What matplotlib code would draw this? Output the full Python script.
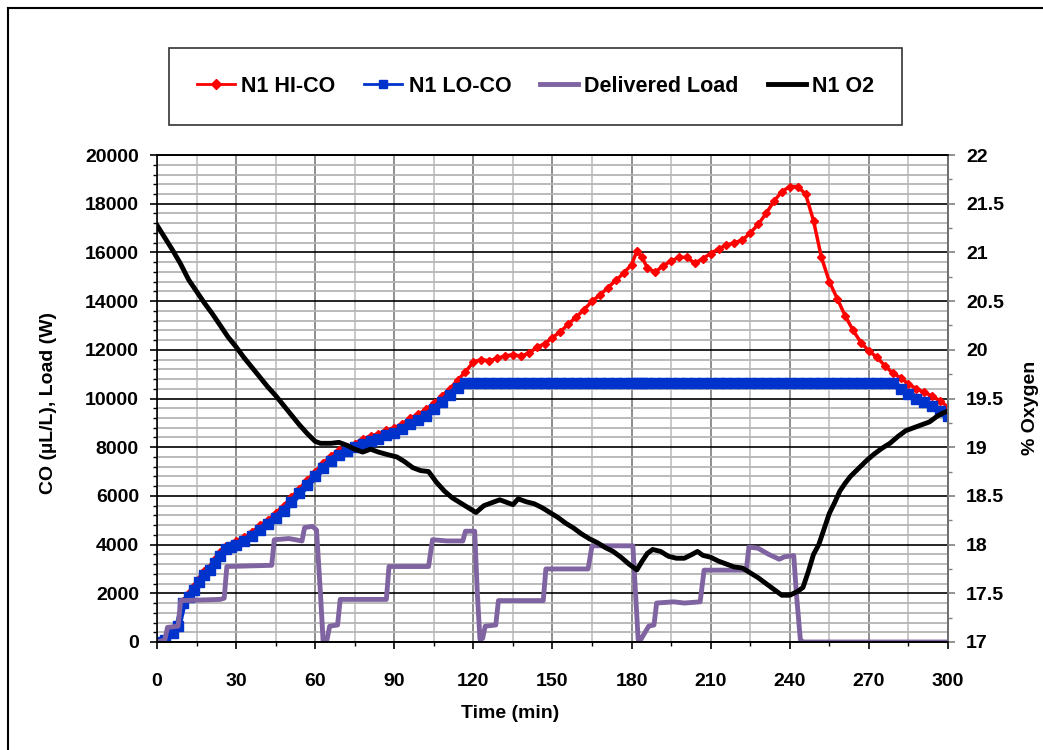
import matplotlib
matplotlib.use("Agg")
import matplotlib.pyplot as plt
from matplotlib.ticker import MultipleLocator
from matplotlib.lines import Line2D

plt.rcParams['font.family'] = ['Liberation Sans', 'DejaVu Sans']
plt.rcParams['font.weight'] = 'bold'

# ===== DATA =====
co_time = [0, 3, 6, 8, 10, 12, 14, 16, 18, 20, 22, 24, 26, 28, 30, 33, 36, 39, 42, 45,
           48, 51, 54, 57, 60, 63, 66, 69, 72, 75, 78, 81, 84, 87, 90, 93, 96, 99, 102, 105,
           108, 111, 114, 117, 120, 123, 126, 129, 132, 135, 138, 141, 144, 147, 150, 153, 156, 159, 162, 165,
           168, 171, 174, 177, 180, 182, 184, 186, 189, 192, 195, 198, 201, 204, 207, 210, 213, 216, 219, 222,
           225, 228, 231, 234, 237, 240, 243, 246, 249, 252, 255, 258, 261, 264, 267, 270, 273, 276, 279, 282,
           285, 288, 291, 294, 297, 300]

hi_co = [0, 150, 450, 800, 1700, 2000, 2300, 2600, 2900, 3100, 3400, 3700, 3950, 4000, 4150, 4300, 4500, 4800, 5000, 5300,
         5600, 5950, 6300, 6650, 7000, 7350, 7650, 7900, 8000, 8150, 8350, 8450, 8550, 8700, 8800, 8950, 9200, 9350, 9550, 9800,
         10100, 10400, 10750, 11100, 11500, 11600, 11550, 11650, 11750, 11800, 11750, 11850, 12100, 12250, 12500, 12750, 13050, 13350, 13650, 14000,
         14250, 14550, 14850, 15150, 15500, 16050, 15800, 15350, 15200, 15450, 15650, 15800, 15800, 15550, 15750, 15950, 16150, 16300, 16400, 16500,
         16800, 17150, 17600, 18100, 18500, 18700, 18700, 18400, 17300, 15800, 14800, 14100, 13400, 12800, 12300, 11950, 11700, 11350, 11050, 10850,
         10600, 10400, 10250, 10100, 9900, 9650]

lo_co = [0, 100, 350, 650, 1600, 1850, 2150, 2450, 2750, 2950, 3250, 3550, 3800, 3900, 4000, 4150, 4350, 4600, 4850, 5100,
         5400, 5750, 6100, 6450, 6800, 7150, 7450, 7700, 7850, 8000, 8150, 8250, 8350, 8500, 8600, 8750, 8950, 9100, 9300, 9550,
         9850, 10150, 10450, 10650, 10650, 10650, 10650, 10650, 10650, 10650, 10650, 10650, 10650, 10650, 10650, 10650, 10650, 10650, 10650, 10650,
         10650, 10650, 10650, 10650, 10650, 10650, 10650, 10650, 10650, 10650, 10650, 10650, 10650, 10650, 10650, 10650, 10650, 10650, 10650, 10650,
         10650, 10650, 10650, 10650, 10650, 10650, 10650, 10650, 10650, 10650, 10650, 10650, 10650, 10650, 10650, 10650, 10650, 10650, 10650, 10400,
         10200, 10000, 9850, 9700, 9500, 9300]

load_time = [0, 2, 3, 4, 8, 9, 24, 25.5, 26.5, 43.5, 44.5, 50, 55, 56, 59, 60.5, 62, 63, 64.5, 65.5,
             68.5, 69.5, 87, 88, 103, 104.5, 110, 116, 117, 120.5, 121.5, 122.5, 123.5, 124.5, 128.5, 129.5, 146.5, 147.5, 163.5, 165,
             180.5, 181.5, 182.5, 183.5, 186.5, 188.5, 189.5, 196, 200, 206, 207.5, 223.5, 224.5, 228, 232, 236, 238, 241.5, 242.5, 244,
             245, 300]
load_w = [0, 50, 100, 600, 650, 1700, 1750, 1800, 3100, 3150, 4200, 4250, 4150, 4700, 4750, 4600, 2000, 50, 100, 650,
          700, 1750, 1750, 3100, 3100, 4200, 4150, 4150, 4550, 4550, 2000, 100, 150, 650, 700, 1700, 1700, 3000, 3000, 3950,
          3950, 2000, 100, 100, 650, 700, 1600, 1650, 1600, 1650, 2950, 2950, 3900, 3850, 3600, 3400, 3500, 3550, 2000, 100,
          0, 0]

o2_time = [0, 3, 6, 9, 12, 15, 18, 21, 24, 27, 30, 33, 36, 39, 42, 45, 48, 51, 54, 57,
           60, 62, 66, 69, 72, 75, 78, 81, 84, 88, 91, 94, 97, 100, 103, 106, 109, 112, 115, 118,
           121, 124, 127, 130, 133, 135, 137, 140, 143, 146, 149, 152, 155, 158, 161, 164, 167, 170, 173, 176,
           179, 182, 184, 186, 188, 191, 194, 197, 200, 203, 205, 207, 210, 213, 216, 219, 222, 225, 228, 231,
           234, 237, 240, 243, 245, 247, 249, 251, 253, 255, 257, 259, 261, 263, 266, 269, 272, 275, 278, 281,
           284, 287, 290, 293, 296, 298, 300]
o2_pct = [21.28, 21.15, 21.02, 20.88, 20.72, 20.60, 20.48, 20.37, 20.25, 20.13, 20.03, 19.92, 19.82, 19.72, 19.62, 19.53, 19.43, 19.33, 19.23, 19.14,
          19.06, 19.04, 19.04, 19.05, 19.02, 18.98, 18.95, 18.98, 18.95, 18.92, 18.90, 18.85, 18.79, 18.76, 18.75, 18.64, 18.55, 18.48, 18.43, 18.38,
          18.33, 18.40, 18.43, 18.46, 18.43, 18.41, 18.47, 18.44, 18.42, 18.38, 18.33, 18.28, 18.22, 18.17, 18.11, 18.06, 18.02, 17.97, 17.93, 17.87,
          17.80, 17.74, 17.83, 17.91, 17.95, 17.93, 17.88, 17.86, 17.86, 17.90, 17.93, 17.89, 17.87, 17.83, 17.80, 17.77, 17.76, 17.71, 17.66, 17.60,
          17.54, 17.48, 17.48, 17.52, 17.56, 17.72, 17.90, 18.00, 18.16, 18.32, 18.43, 18.55, 18.63, 18.70, 18.78, 18.86, 18.93, 18.99, 19.04, 19.11,
          19.17, 19.20, 19.23, 19.26, 19.32, 19.35, 19.37]

x_ticks = [0, 30, 60, 90, 120, 150, 180, 210, 240, 270, 300]
o2_ticks = [17, 17.5, 18, 18.5, 19, 19.5, 20, 20.5, 21, 21.5, 22]
o2_labels = ['17', '17.5', '18', '18.5', '19', '19.5', '20', '20.5', '21', '21.5', '22']

# ===== FIGURE =====
fig = plt.figure(figsize=(10.43, 7.5), dpi=100)
ax = fig.add_axes([0.1505, 0.144, 0.7584, 0.6493])
ax2 = ax.twinx()

# background grid
ax.set_axisbelow(True)
ax.yaxis.set_major_locator(MultipleLocator(2000))
ax.yaxis.set_minor_locator(MultipleLocator(400))
ax.xaxis.set_major_locator(MultipleLocator(30))
ax.xaxis.set_minor_locator(MultipleLocator(15))
ax.grid(which='minor', axis='y', color='#b4b4b4', lw=1.3)
ax.grid(which='major', axis='y', color='black', lw=1.2)
ax.grid(which='minor', axis='x', color='#c4c4c4', lw=1.3)
ax.grid(which='major', axis='x', color='#868686', lw=1.3)

l_hi, = ax.plot(co_time, hi_co, color='#ff0000', lw=2.5, marker='D', ms=4.5, mec='#ff0000', label='N1 HI-CO')
l_lo, = ax.plot(co_time, lo_co, color='#0033cc', lw=5, marker='s', ms=6.5, mec='#0033cc', label='N1 LO-CO')
l_ld, = ax.plot(load_time, load_w, color='#8064a2', lw=3.5, label='Delivered Load')
l_o2, = ax2.plot(o2_time, o2_pct, color='black', lw=3.5, label='N1 O2')

ax.set_xlim(0, 300)
ax.set_ylim(0, 20000)
ax2.set_ylim(17, 22)
ax2.yaxis.set_minor_locator(MultipleLocator(0.25))
ax2.set_yticks(o2_ticks, o2_labels)
ax.set_xticks(x_ticks)

for a in (ax, ax2):
    for s in a.spines.values():
        s.set_linewidth(1.2)
ax2.spines['right'].set_color('#808080')
ax2.spines['left'].set_visible(False)

ax.tick_params(which='major', length=5, width=1.2, labelsize=14, pad=8)
ax.tick_params(axis='x', which='major', pad=17)
ax.tick_params(which='minor', length=3, width=1.0)
ax2.tick_params(which='major', length=5, width=1.2, color='#808080', labelsize=14, pad=8)
ax2.tick_params(which='minor', length=3, width=1.0, color='#808080')

ax.set_xlabel('Time (min)', fontsize=14, fontweight='bold')
ax.xaxis.set_label_coords(0.446, -0.129)
ax.set_ylabel('CO (\u00b5L/L), Load (W)', fontsize=14, fontweight='bold')
ax.yaxis.set_label_coords(-0.127, 0.49)
ax2.set_ylabel('% Oxygen', fontsize=14, fontweight='bold')
ax2.yaxis.set_label_coords(1.093, 0.48)

leg = fig.legend(handles=[l_hi, l_lo, l_ld, l_o2], loc='center', ncol=4,
                 bbox_to_anchor=(0.5134, 0.8847), fontsize=15.5, frameon=True,
                 fancybox=False, handlelength=1.77, handletextpad=0.28,
                 columnspacing=1.35, borderpad=1.3, borderaxespad=0)
leg.get_frame().set_edgecolor('black')
leg.get_frame().set_linewidth(1.2)
for lh in leg.legend_handles:
    if lh.get_marker() == 's':
        lh.set_linewidth(2)
        lh.set_markersize(6)
    elif lh.get_marker() == 'D':
        lh.set_linewidth(2)
        lh.set_markersize(5)

# outer chart border (runs off the right and bottom edges)
fig.add_artist(Line2D([8 / 1043, 8 / 1043], [-0.1, 1 - 8 / 750], color='black', lw=1.5,
                      transform=fig.transFigure))
fig.add_artist(Line2D([8 / 1043, 1.1], [1 - 8 / 750, 1 - 8 / 750], color='black', lw=1.5,
                      transform=fig.transFigure))

fig.savefig('out.png', dpi=100)
